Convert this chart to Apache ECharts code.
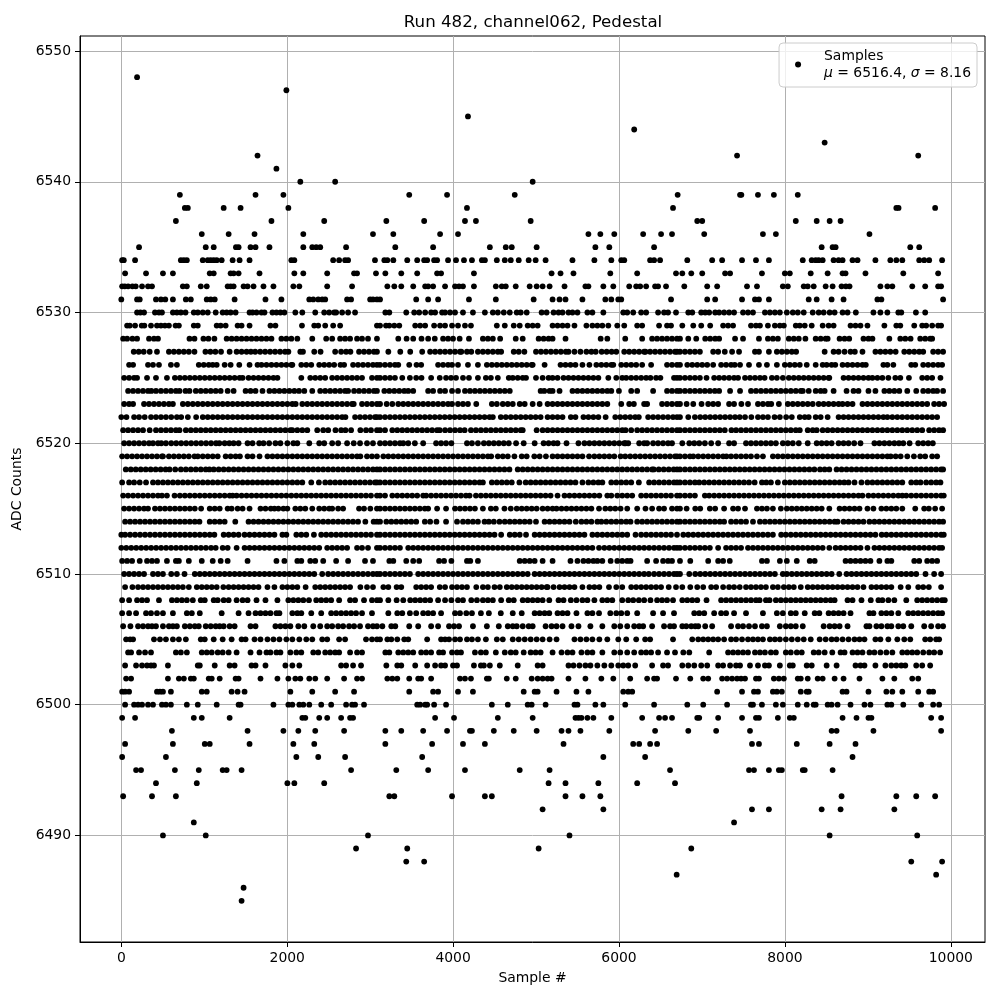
<!DOCTYPE html>
<html><head><meta charset="utf-8">
<script src="https://cdn.jsdelivr.net/npm/echarts@6/dist/echarts.min.js"></script>
<style>html,body{margin:0;padding:0;background:#fff}#c{width:1000px;height:1000px}</style></head>
<body><div id="c"></div>
<script>
const titleText='Run 482, channel062, Pedestal';
const xTicks=[0,2000,4000,6000,8000,10000];
const yTicks=[6490,6500,6510,6520,6530,6540,6550];
const s6548=[190];
const s6547=[1990];
const s6545=[4179];
const s6544=[6183];
const s6543=[8479];
const s6542=[1642,7423,9607];
const s6541=[1870];
const s6540=[2158,2578,4959];
const s6539=[706,1618,1954,3471,3927,4743,6707,7459,7475,7675,7867,8155];
const s6538=[766,802,1234,1438,2014,4167,6651,9343,9370,9811];
const s6537=[658,1810,2446,3195,3651,4143,4275,4935,6943,7003,8131,8383,8539,8671];
const s6536=[970,1294,1606,2194,3034,3279,3843,4059,5631,5775,5943,6291,6507,6639,7027,7735,7891,9019];
const s6535=[214,1018,1114,1382,1414,1558,1618,1786,2194,2302,2350,2398,2710,3303,3759,4443,4635,4707,5007,5715,5883,6423,8443,8575,8611,9511,9619];
const s6534=[10,30,166,718,754,790,982,1042,1078,1114,1150,1210,1342,1426,1546,2050,2086,2554,2626,2698,2734,3058,3171,3207,3279,3447,3567,3651,3687,3771,3807,3939,4035,4131,4227,4347,4383,4527,4623,4695,4791,4911,4995,5115,5439,5703,5907,6027,6063,6375,6423,6495,6823,7123,7243,7483,7651,7807,8215,8323,8371,8407,8455,8587,8647,8695,8815,8875,9091,9271,9343,9415,9619,9679,9739,9895];
const s6533=[46,298,502,622,1066,1114,1318,1354,1414,1666,2086,2194,2482,2806,2842,3070,3183,3375,3567,3807,3855,4251,5187,5295,5451,5895,6219,6687,6763,6871,7003,7279,7339,7723,7999,8059,8311,8515,8695,8731,8971,9427,9847];
const s6532=[10,42,82,134,174,250,322,370,742,790,958,1030,1282,1318,1354,1474,1522,1594,1714,1834,2074,2146,2482,2782,3207,3291,3375,3519,3663,3699,3759,3903,4023,4071,4119,4251,4515,4587,4635,4755,4923,5007,5079,5163,5343,5595,5631,5811,5931,6123,6207,6255,6327,6435,6471,6567,6787,7063,7183,7543,7663,7975,8035,8227,8275,8347,8491,8575,8683,8735,8779,9151,9235,9295,9535,9691,9847,9883];
const s6531=[0,190,222,418,478,530,622,778,838,1030,1078,1126,1366,1738,1930,2266,2314,2374,2422,2458,2722,2770,3000,3034,3082,3119,3555,3699,3819,4191,4515,4971,5199,5283,5355,5559,5835,5907,5991,6027,6627,7063,7159,7483,7639,7687,7807,8287,8383,8563,8707,9115,9163,9907];
const s6530=[190,230,274,406,454,490,622,670,718,774,874,922,982,1042,1138,1222,1270,1318,1378,1546,1582,1630,1690,1726,1822,1870,1918,1966,2098,2182,2338,2446,2506,2566,2590,2662,2734,2818,3183,3231,3435,3531,3591,3663,3735,3783,3867,3903,3963,4023,4119,4239,4383,4479,4539,4611,4683,4767,4815,4887,5067,5127,5211,5271,5319,5391,5439,5499,5619,5679,5811,6051,6099,6171,6267,6327,6471,6543,6591,6687,6835,6883,6991,7039,7087,7159,7207,7267,7327,7387,7495,7555,7615,7759,7819,7879,7939,8023,8095,8155,8227,8335,8407,8467,8539,8599,8695,8755,8855,9067,9151,9235,9367,9403,9579,9691];
const s6529=[70,102,166,246,278,358,430,478,526,574,654,694,874,922,1150,1198,1258,1402,1450,1546,1798,1858,2178,2326,2374,2458,2554,2638,3082,3119,3191,3231,3291,3351,3543,3603,3663,3771,3843,3903,3987,4059,4143,4215,4527,4623,4731,4803,4899,4959,5019,5199,5259,5319,5379,5463,5607,5679,5739,5799,5871,5979,6063,6219,6279,6483,6579,6627,6763,6895,6991,7099,7255,7315,7375,7591,7651,7699,7795,7879,7939,7987,8131,8179,8239,8323,8455,8527,8587,8791,8851,8911,8995,9199,9343,9391,9559,9655,9703,9775,9847,9883];
const s6528=[22,70,134,190,334,394,442,822,882,990,1050,1122,1270,1330,1390,1450,1510,1570,1630,1690,1750,1810,1930,1990,2050,2122,2302,2470,2542,2638,2698,2758,2842,2902,2974,3082,3339,3439,3519,3619,3699,3779,3879,3939,3999,4079,4191,4359,4419,4479,4567,4755,4839,5031,5091,5151,5199,5355,5779,5859,6075,6279,6399,6459,6519,6579,6639,6699,6735,6835,6931,7039,7099,7159,7207,7399,7495,7687,7795,7855,7915,8047,8107,8167,8247,8371,8431,8491,8515,8659,8719,8775,8947,9007,9055,9259,9391,9451,9515,9631,9691,9751,9775];
const s6527=[150,210,270,342,430,574,634,694,754,814,882,1014,1074,1134,1202,1306,1390,1450,1510,1562,1614,1674,1734,1794,1854,1914,1974,2014,2158,2190,2326,2402,2578,2650,2710,2762,2866,2926,2986,3046,3082,3219,3363,3483,3627,3723,3783,3843,3903,3963,4023,4083,4099,4167,4219,4299,4359,4419,4479,4539,4579,4731,4791,4859,4999,5059,5119,5179,5239,5299,5359,5391,5463,5535,5607,5667,5719,5791,5851,5911,5967,6063,6123,6183,6243,6303,6319,6375,6435,6495,6555,6615,6675,6699,6735,6795,6855,6915,6975,7135,7195,7275,7363,7447,7639,7687,7807,7903,7963,8023,8083,8135,8479,8587,8647,8719,8791,8843,8935,9091,9151,9211,9271,9335,9439,9499,9559,9619,9667,9787,9847,9907];
const s6526=[94,142,322,382,454,598,670,934,994,1054,1102,1150,1246,1318,1422,1546,1642,1690,1750,1810,1870,1930,1990,2050,2062,2170,2230,2290,2386,2446,2506,2566,2642,2686,2794,2854,2914,2974,3034,3082,3119,3179,3239,3299,3339,3471,3559,3615,3819,3879,3939,3987,4059,4179,4299,4407,4467,4527,4587,4647,4707,4767,4827,4887,4947,4959,5103,5295,5355,5415,5475,5559,5643,5727,5787,5847,5907,5931,6027,6087,6147,6207,6279,6387,6579,6639,6699,6735,6823,6883,6943,7003,7063,7135,7231,7291,7351,7395,7459,7567,7687,7783,7903,7999,8059,8119,8179,8263,8371,8455,8503,8563,8607,8695,8755,8815,8875,8935,8975,9187,9235,9307,9523,9571,9667,9727,9787,9847,9895];
const s6525=[34,94,154,190,310,418,550,646,706,766,826,886,946,1006,1066,1126,1186,1246,1306,1366,1426,1462,1534,1594,1654,1714,1774,1834,1882,2170,2278,2338,2398,2458,2542,2602,2662,2722,2782,2842,2902,3022,3082,3119,3179,3239,3299,3387,3479,3555,3619,3735,3839,3915,3975,4035,4119,4191,4299,4395,4455,4539,4671,4719,4779,4839,4879,4999,5079,5151,5199,5259,5331,5391,5451,5511,5571,5631,5691,5751,5871,5967,6039,6087,6147,6207,6267,6327,6379,6447,6499,6663,6699,6735,6795,6855,6915,6975,7055,7147,7207,7267,7327,7387,7435,7519,7579,7639,7699,7755,7843,7903,7975,8047,8107,8167,8227,8287,8347,8407,8467,8527,8535,8707,8767,8827,8887,8947,9007,9055,9115,9175,9247,9331,9391,9495,9655,9715,9775,9875];
const s6524=[82,142,202,262,322,362,418,478,538,598,658,702,774,822,898,958,1018,1078,1138,1198,1282,1354,1498,1558,1618,1702,1786,1846,1906,1966,2026,2086,2142,2206,2302,2398,2458,2518,2578,2638,2698,2734,2806,2866,2926,2986,3046,3082,3171,3231,3291,3351,3411,3459,3519,3699,3759,3843,3903,3987,4059,4143,4203,4263,4323,4383,4443,4503,4563,4623,4683,5055,5099,5163,5199,5283,5439,5499,5559,5619,5679,5739,5799,5859,5907,5999,6147,6219,6411,6579,6639,6699,6735,6795,6855,6915,6975,7035,7095,7155,7207,7339,7459,7591,7651,7711,7771,7831,7891,7951,8011,8071,8131,8191,8215,8287,8371,8431,8479,8587,8743,8827,8887,9007,9091,9199,9259,9319,9379,9475,9583,9667,9727,9787,9835,9907];
const s6523=[34,94,142,274,334,394,454,514,574,622,742,802,862,922,982,1042,1102,1162,1222,1282,1342,1402,1462,1522,1582,1642,1702,1762,1822,1882,1942,2002,2062,2102,2182,2242,2302,2362,2422,2482,2542,2602,2662,2722,2782,2802,2902,2962,3022,3082,3119,3199,3267,3339,3399,3459,3519,3579,3639,3699,3759,3819,3879,3939,3987,4059,4119,4179,4279,4467,4527,4599,4659,4719,4803,4863,4959,5043,5139,5199,5259,5319,5379,5439,5499,5559,5619,5679,5739,5799,5859,6027,6123,6179,6303,6339,6519,6579,6639,6699,6735,6815,6895,6995,7075,7135,7195,7327,7387,7475,7555,7675,7735,7795,7835,7927,8035,8095,8155,8215,8275,8335,8407,8467,8527,8587,8647,8695,8755,8815,8935,8995,9055,9115,9175,9235,9295,9355,9415,9475,9535,9595,9655,9715,9799,9859,9919];
const s6522=[0,62,154,214,282,358,418,478,538,602,670,722,802,902,982,1042,1102,1162,1222,1282,1342,1402,1462,1522,1582,1642,1702,1762,1822,1882,1942,2002,2062,2122,2182,2242,2302,2362,2422,2482,2542,2602,2662,2702,2818,2878,2938,2998,3058,3082,3119,3179,3239,3299,3359,3419,3479,3539,3599,3659,3719,3779,3839,3899,3959,4019,4079,4139,4199,4259,4319,4379,4439,4479,4575,4635,4695,4755,4815,4875,4935,4995,5055,5139,5199,5259,5319,5419,5475,5571,5631,5691,5751,5839,5955,6015,6075,6135,6195,6239,6351,6411,6471,6531,6591,6651,6699,6735,6835,6915,6979,7039,7099,7159,7219,7279,7339,7399,7455,7519,7595,7675,7735,7795,7875,7939,8015,8083,8179,8239,8287,8371,8431,8515,8647,8707,8767,8827,8887,8947,9007,9067,9127,9187,9235,9295,9355,9415,9475,9535,9595,9655,9715,9775,9835];
const s6521=[22,82,142,202,262,342,418,478,538,598,658,702,778,838,898,958,1018,1078,1138,1198,1258,1318,1378,1438,1498,1558,1618,1678,1738,1798,1858,1918,1978,2038,2062,2122,2182,2242,2362,2434,2494,2582,2650,2702,2770,2882,2950,3010,3082,3119,3179,3267,3327,3387,3447,3507,3567,3627,3687,3747,3807,3839,3903,3963,4023,4083,4139,4215,4275,4335,4395,4455,4515,4575,4635,4695,4755,4815,4839,5007,5079,5139,5199,5259,5319,5379,5439,5499,5559,5619,5679,5739,5799,5859,5919,5979,6039,6079,6147,6219,6279,6339,6399,6459,6519,6579,6639,6699,6735,6795,6855,6915,6975,7035,7095,7155,7215,7275,7355,7411,7471,7531,7591,7651,7711,7771,7831,7891,7951,8011,8071,8131,8179,8275,8335,8383,8455,8515,8575,8635,8695,8755,8815,8875,8935,8995,9055,9115,9175,9235,9295,9355,9415,9475,9535,9595,9655,9739,9799,9859,9907];
const s6520=[34,94,154,214,274,334,382,442,482,538,602,662,722,782,842,902,962,1022,1082,1142,1182,1246,1302,1354,1414,1522,1582,1662,1714,1782,1858,1918,2002,2074,2122,2266,2386,2446,2542,2614,2722,2802,2878,2962,3034,3119,3179,3239,3299,3359,3399,3459,3539,3639,3795,3855,3915,3979,4167,4227,4299,4371,4431,4491,4551,4611,4671,4759,4851,4983,5091,5151,5211,5259,5367,5511,5583,5643,5703,5763,5823,5883,5943,6003,6063,6079,6111,6243,6303,6339,6411,6471,6531,6591,6639,6763,6847,6907,6967,7035,7111,7195,7327,7387,7531,7591,7651,7711,7771,7831,7891,7975,8035,8095,8167,8275,8383,8443,8503,8563,8647,8707,8767,8835,8911,9079,9139,9199,9259,9319,9375,9427,9503,9607,9667,9727,9783];
const s6519=[10,70,130,190,250,310,370,430,490,502,574,634,694,754,814,882,922,982,1042,1102,1162,1258,1318,1378,1430,1522,1582,1666,1762,1822,1882,1942,2002,2062,2122,2182,2242,2302,2362,2422,2482,2542,2602,2662,2722,2782,2842,2882,2962,3022,3082,3159,3219,3279,3339,3399,3459,3519,3579,3639,3699,3759,3819,3879,3939,3999,4059,4119,4179,4239,4299,4359,4419,4459,4539,4599,4659,4739,4827,4887,4979,5043,5119,5199,5259,5319,5379,5439,5499,5559,5639,5703,5763,5823,5883,5943,6019,6075,6135,6195,6255,6315,6375,6435,6495,6555,6615,6675,6699,6735,6795,6855,6895,6955,7015,7075,7135,7195,7255,7295,7351,7411,7471,7531,7591,7663,7735,7855,7915,7975,8035,8095,8155,8215,8275,8335,8395,8455,8515,8575,8635,8695,8755,8815,8875,8935,8995,9055,9115,9175,9235,9275,9335,9395,9475,9555,9631,9691,9775,9835];
const s6518=[54,114,174,234,294,354,414,474,534,582,650,718,778,838,898,958,1018,1062,1114,1174,1234,1294,1354,1414,1474,1534,1594,1654,1714,1774,1834,1894,1954,2014,2074,2134,2194,2254,2314,2374,2434,2494,2554,2614,2674,2734,2794,2854,2914,2974,3034,3082,3119,3179,3239,3299,3359,3419,3479,3539,3599,3659,3719,3779,3839,3899,3959,4019,4079,4139,4199,4259,4319,4379,4439,4499,4559,4619,4679,4779,4839,4899,4959,5019,5079,5139,5199,5259,5319,5379,5439,5499,5559,5619,5679,5739,5799,5859,5919,5979,6039,6099,6159,6219,6279,6339,6399,6419,6479,6539,6599,6659,6699,6735,6795,6855,6915,6975,7035,7095,7155,7215,7275,7335,7395,7455,7515,7575,7635,7695,7755,7815,7875,7935,7995,8055,8115,8175,8235,8295,8355,8423,8479,8535,8623,8683,8743,8803,8863,8923,8983,9043,9103,9163,9223,9283,9343,9403,9463,9523,9583,9643,9703,9763,9823,9883,9907];
const s6517=[10,94,154,222,298,382,442,502,562,622,682,742,802,862,922,982,1042,1102,1162,1222,1282,1342,1402,1462,1522,1582,1642,1702,1762,1822,1882,1942,2002,2062,2122,2182,2290,2382,2458,2518,2578,2638,2698,2758,2818,2878,2938,2998,3058,3082,3119,3179,3239,3299,3359,3419,3479,3539,3599,3659,3719,3779,3839,3899,3959,4019,4079,4139,4199,4259,4319,4359,4467,4527,4587,4647,4707,4799,4875,4935,4995,5055,5115,5175,5235,5295,5355,5415,5475,5559,5631,5691,5751,5799,5907,5967,6027,6087,6147,6239,6363,6423,6483,6543,6603,6663,6699,6735,6795,6855,6915,6967,7027,7087,7147,7207,7267,7327,7387,7447,7507,7567,7635,7723,7775,7831,7915,7999,8059,8119,8179,8239,8299,8359,8419,8479,8539,8599,8659,8715,8767,8839,8923,8995,9055,9115,9175,9235,9295,9355,9415,9523,9583,9635,9703,9763,9823,9875];
const s6516=[22,82,142,202,262,322,382,442,490,550,642,706,766,826,886,946,1006,1066,1126,1186,1246,1306,1342,1390,1450,1510,1570,1630,1690,1750,1810,1870,1930,1990,2050,2110,2170,2230,2290,2350,2410,2470,2530,2590,2650,2710,2770,2830,2890,2950,3010,3082,3119,3179,3267,3327,3387,3447,3507,3567,3639,3675,3735,3795,3855,3915,3975,4035,4095,4155,4199,4275,4335,4395,4455,4515,4575,4635,4695,4755,4815,4875,4935,4995,5055,5115,5175,5259,5343,5403,5463,5523,5583,5643,5703,5763,5859,5907,5979,6039,6099,6159,6267,6327,6387,6447,6507,6567,6627,6699,6735,6795,6855,6915,7035,7087,7147,7207,7267,7327,7387,7447,7507,7567,7627,7687,7747,7807,7867,7927,7987,8047,8107,8167,8227,8287,8347,8407,8467,8527,8587,8647,8707,8767,8827,8887,8935,9007,9067,9127,9187,9247,9307,9367,9415,9463,9523,9583,9643,9703,9763,9823,9883,9915];
const s6515=[34,94,154,214,274,322,406,466,526,586,646,706,766,826,886,962,1066,1126,1186,1282,1330,1402,1462,1546,1678,1738,1802,1846,1894,1954,2002,2098,2158,2218,2302,2386,2446,2506,2542,2614,2674,2866,2926,3002,3082,3119,3179,3239,3299,3359,3419,3479,3539,3599,3659,3699,3807,3915,4023,4083,4143,4203,4263,4359,4455,4515,4619,4695,4767,4827,4887,4947,5007,5079,5139,5199,5247,5307,5367,5427,5487,5547,5607,5667,5759,5835,5895,5955,6019,6099,6219,6319,6399,6483,6543,6639,6699,6735,6815,6919,6979,7095,7159,7267,7375,7435,7519,7663,7723,7783,7855,7951,8023,8083,8143,8203,8263,8323,8383,8443,8535,8659,8719,8779,8839,8899,8995,9067,9163,9223,9283,9343,9415,9571,9679,9735,9811,9895];
const s6514=[46,106,166,226,286,346,406,466,526,586,646,706,766,826,886,942,1066,1126,1186,1246,1374,1534,1594,1654,1714,1774,1834,1894,1954,2014,2074,2134,2194,2254,2314,2374,2434,2494,2554,2614,2674,2734,2794,2854,2942,3042,3082,3119,3195,3255,3315,3375,3435,3495,3555,3659,3723,3799,3915,4047,4119,4179,4239,4299,4379,4431,4491,4559,4623,4683,4743,4803,4863,4923,4999,5103,5163,5223,5283,5343,5403,5479,5547,5607,5667,5739,5787,5847,5907,5967,6027,6087,6139,6219,6279,6339,6399,6459,6519,6579,6639,6699,6735,6795,6855,6915,6975,7035,7095,7155,7215,7267,7351,7411,7471,7531,7615,7699,7759,7819,7879,7939,7999,8059,8119,8179,8239,8299,8359,8419,8479,8539,8599,8635,8707,8767,8827,8887,8947,9019,9079,9139,9199,9259,9319,9379,9439,9499,9559,9619,9679,9739,9799,9859,9907];
const s6513=[0,46,106,166,226,286,346,406,466,526,586,646,706,766,826,886,946,1006,1066,1122,1234,1294,1354,1414,1486,1546,1606,1666,1726,1786,1846,1942,1990,2110,2170,2230,2322,2410,2470,2530,2590,2650,2710,2770,2830,2890,2950,3010,3082,3119,3179,3239,3299,3359,3419,3479,3539,3599,3659,3719,3779,3839,3899,3959,4019,4079,4139,4199,4259,4319,4379,4439,4499,4579,4683,4743,4803,4879,4983,5043,5103,5163,5223,5283,5343,5403,5463,5523,5583,5679,5739,5799,5859,5919,5979,6039,6099,6199,6267,6327,6387,6447,6507,6567,6627,6699,6775,6835,6895,6955,7015,7075,7135,7195,7255,7315,7375,7435,7495,7555,7615,7675,7735,7795,7855,7955,8011,8071,8131,8191,8251,8311,8371,8431,8491,8551,8611,8671,8731,8791,8851,8911,8971,9031,9091,9167,9223,9283,9343,9403,9463,9523,9583,9643,9703,9763,9823,9883,9915];
const s6512=[0,60,120,180,240,300,360,420,480,540,600,660,720,780,840,900,960,1020,1082,1138,1222,1282,1390,1486,1546,1606,1666,1726,1786,1846,1906,1966,2026,2086,2146,2206,2266,2326,2386,2482,2542,2602,2662,2722,2842,2902,2974,3082,3119,3179,3239,3299,3359,3459,3519,3579,3639,3699,3759,3819,3879,3939,3999,4059,4119,4179,4239,4299,4359,4419,4479,4539,4599,4659,4719,4779,4839,4899,4959,5019,5079,5139,5199,5259,5319,5379,5439,5499,5559,5619,5679,5759,5823,5883,5943,6003,6063,6123,6183,6243,6303,6363,6423,6483,6543,6603,6663,6699,6735,6795,6855,6915,6975,7035,7095,7195,7291,7351,7411,7471,7555,7615,7675,7735,7795,7855,7915,7975,8035,8095,8155,8215,8275,8335,8395,8455,8535,8611,8671,8731,8791,8851,8911,8995,9079,9139,9199,9259,9319,9379,9439,9499,9559,9619,9679,9739,9799,9859,9895];
const s6511=[10,70,130,222,310,370,430,550,658,694,814,970,1102,1198,1282,1522,1870,1966,2122,2170,2278,2338,2434,2590,2734,2938,3034,3231,3279,3435,3519,3591,3831,3891,3979,4167,4207,4299,4803,4863,4923,4983,5079,5199,5415,5499,5571,5631,5691,5739,5799,5899,5979,6039,6099,6139,6339,6447,6531,6591,6639,6735,6859,7075,7195,7255,7335,7723,7783,7939,8023,8143,8299,8359,8731,8791,8851,8911,8971,9031,9139,9235,9283,9559,9619,9715,9775,9835];
const s6510=[34,94,154,214,274,382,442,502,602,670,762,886,946,1006,1066,1126,1186,1246,1306,1366,1426,1486,1546,1606,1666,1726,1786,1846,1906,1966,2026,2086,2146,2206,2266,2326,2422,2494,2554,2614,2674,2734,2794,2854,2914,2974,3034,3082,3119,3179,3239,3299,3359,3419,3479,3579,3639,3699,3759,3819,3879,3939,3999,4059,4119,4179,4239,4299,4359,4419,4479,4539,4599,4659,4719,4779,4839,4899,4983,5043,5103,5163,5223,5283,5343,5403,5463,5523,5583,5643,5703,5763,5823,5883,5943,6003,6063,6123,6183,6243,6303,6359,6423,6483,6543,6603,6663,6699,6735,6847,6919,6979,7039,7099,7159,7219,7279,7339,7399,7459,7519,7579,7639,7699,7759,7819,7879,7975,8023,8083,8143,8203,8263,8323,8383,8443,8503,8563,8655,8743,8803,8863,8923,8983,9043,9103,9163,9223,9283,9343,9403,9463,9523,9583,9695,9799,9883];
const s6509=[46,134,202,262,322,382,442,502,562,622,682,742,814,910,970,1030,1090,1150,1230,1294,1354,1414,1474,1534,1594,1654,1762,1846,1942,2002,2062,2122,2222,2338,2398,2458,2518,2578,2638,2698,2758,2882,2962,3034,3159,3219,3319,3375,3555,3615,3675,3735,3839,3903,3987,4047,4107,4167,4279,4359,4419,4499,4563,4647,4707,4767,4827,4887,4947,5007,5067,5127,5139,5211,5283,5343,5403,5463,5559,5643,5703,5763,5879,5967,6039,6147,6207,6267,6327,6387,6447,6507,6599,6687,6763,6859,6943,7015,7111,7171,7255,7327,7387,7455,7531,7591,7651,7711,7771,7855,7915,7987,8047,8107,8191,8275,8335,8395,8455,8515,8575,8635,8695,8755,8815,8875,8947,9043,9103,9163,9223,9283,9395,9487,9607,9667,9735,9883];
const s6508=[10,94,190,250,310,454,610,670,730,790,862,958,1006,1114,1162,1234,1294,1390,1462,1522,1630,1738,1882,2014,2074,2134,2194,2262,2350,2410,2470,2530,2626,2758,2818,2926,3022,3082,3119,3219,3319,3399,3483,3543,3603,3663,3723,3819,3903,3979,4059,4119,4219,4287,4359,4419,4479,4579,4671,4731,4839,4899,4959,5019,5079,5159,5271,5331,5419,5487,5559,5619,5703,5799,5859,5919,6039,6111,6171,6239,6303,6379,6459,6519,6579,6651,6763,6823,6883,6943,7055,7231,7291,7351,7411,7471,7531,7591,7651,7695,7771,7815,7891,7951,8011,8071,8131,8191,8251,8311,8371,8431,8491,8551,8599,8755,8815,8923,9035,9127,9175,9247,9319,9463,9595,9655,9715,9775,9835,9895,9927];
const s6507=[10,94,178,298,358,430,502,622,790,850,946,1210,1414,1534,1618,1678,1738,1798,1870,1906,2062,2122,2170,2290,2410,2530,2590,2650,2710,2770,2830,2902,3022,3219,3327,3387,3479,3555,3639,3699,3759,3855,4023,4083,4159,4227,4335,4431,4575,4719,4827,4983,5043,5103,5159,5259,5319,5379,5487,5619,5679,5759,5895,5967,6027,6099,6219,6411,6531,6663,6907,6967,7027,7147,7231,7291,7387,7531,7735,7903,7975,8071,8131,8239,8359,8415,8527,8587,8647,8707,8791,9019,9067,9163,9223,9283,9367,9487,9547,9607,9667,9727,9787,9847,9895];
const s6506=[22,110,202,262,322,370,418,502,574,622,670,766,826,886,934,1018,1078,1138,1186,1234,1306,1366,1558,1618,1858,1918,1978,2038,2134,2206,2314,2398,2482,2542,2614,2674,2746,2806,2878,2974,3034,3082,3147,3255,3303,3471,3579,3735,3819,3951,4011,4071,4239,4407,4551,4659,4719,4767,4839,4911,4959,5115,5187,5247,5319,5427,5511,5655,5799,5943,6015,6099,6183,6243,6291,6399,6543,6615,6663,6763,6811,6871,6919,6955,7039,7123,7351,7435,7495,7567,7639,7723,7783,7939,8011,8071,8131,8215,8467,8539,8599,8659,8755,8983,9019,9103,9163,9235,9283,9367,9427,9523,9679,9763,9847,9907];
const s6505=[58,106,142,394,466,538,622,694,778,958,1006,1114,1222,1330,1450,1498,1606,1678,1762,1834,1906,1990,2062,2146,2230,2302,2422,2482,2626,2698,2950,3022,3082,3119,3207,3255,3327,3411,3459,3687,3855,3903,3951,4023,4083,4167,4227,4299,4395,4527,4599,4719,4791,4863,4935,5007,5079,5163,5247,5463,5535,5607,5679,5763,5859,5991,6087,6207,6315,6375,6651,6883,6955,7015,7075,7135,7195,7267,7351,7411,7483,7555,7615,7675,7735,7819,7879,7939,8011,8083,8155,8227,8311,8419,8491,8563,8623,8695,8767,8839,8899,8959,9091,9151,9247,9355,9439,9511,9691,9751,9823,9859];
const s6504=[82,118,214,286,358,658,718,790,970,1030,1090,1162,1222,1294,1390,1558,1666,1750,1798,1870,1918,2038,2110,2170,2314,2374,2458,2518,2578,2626,2758,2842,2902,3183,3231,3339,3399,3459,3519,3615,3675,3735,3831,3879,3987,4047,4095,4263,4335,4395,4515,4623,4695,4755,4851,4935,4995,5055,5199,5307,5379,5439,5547,5619,5679,5799,5943,6015,6099,6183,6267,6327,6387,6471,6579,6675,6775,6847,7087,7315,7375,7435,7495,7555,7639,7699,7759,7831,7891,8011,8071,8143,8203,8347,8407,8479,8571,8671,8719,8815,8875,8935,9019,9079,9151,9223,9295,9415,9475,9535,9595,9667,9739,9799,9871];
const s6503=[46,178,250,310,358,394,562,922,946,1126,1306,1366,1570,1618,1738,1978,2062,2146,2650,2710,2794,2890,3195,3327,3375,3543,3687,3783,3855,3903,3999,4047,4251,4335,4371,4443,4563,4779,5019,5079,5391,5451,5523,5595,5655,5739,5823,5907,5991,6051,6111,6195,6399,6531,6591,6763,6835,6907,6991,7063,7195,7255,7339,7411,7459,7579,7675,7759,7807,7939,8059,8095,8263,8323,8503,8623,8851,8911,8959,9091,9211,9283,9343,9403,9451,9583,9655,9751];
const s6502=[58,118,562,694,754,838,874,1054,1090,1186,1378,1414,1678,1882,2014,2098,2158,2266,2338,2482,2686,2842,2902,3207,3267,3327,3471,3579,3615,3735,4083,4143,4215,4407,4431,4647,4755,4947,5019,5079,5139,5187,5391,5595,5787,5931,6135,6339,6423,6459,6687,6859,7015,7075,7243,7303,7363,7423,7471,7519,7651,7687,7867,7927,7987,8155,8191,8275,8395,8455,8599,8707,8899,9175,9319,9535,9607];
const s6501=[10,46,94,430,466,502,598,970,1030,1330,1402,1486,2038,2302,2578,2806,3471,3759,3819,4059,4239,4851,4983,5019,5247,5487,5631,6051,6111,6159,7183,7483,7627,7675,7855,7903,7963,8191,8263,8287,8695,8743,9007,9223,9295,9415,9607,9739,9787];
const s6500=[46,154,202,250,322,382,490,538,598,790,922,1150,1414,1438,1834,2014,2062,2146,2194,2266,2410,2530,2710,2782,2818,2926,3567,3603,3663,3687,3771,3915,4467,4659,4899,4947,5115,5463,5499,5715,5811,6075,6423,6823,7015,7303,7591,7615,7723,7891,7975,8155,8263,8347,8371,8515,8563,8635,8791,8959,9031,9235,9283,9427,9643,9787,9859];
const s6499=[10,166,874,970,1306,2182,2218,2386,2482,2650,2758,2794,3783,4011,4539,4959,5475,5511,5547,5619,5691,5907,6279,6483,6555,6639,6943,6967,7195,7483,7651,7687,7915,8059,8107,8695,8863,9007,9043,9763,9883];
const s6498=[610,1522,1954,2134,2338,2686,3183,3375,3639,3927,4203,4227,4491,4731,5007,5307,5391,5535,5883,6435,6835,7171,7579,8563,8623,9067,9883];
const s6497=[46,622,1006,1066,1546,2074,2326,3183,3747,4119,4383,5331,6171,6243,6375,6459,7603,7687,8143,8539,8851];
const s6496=[10,538,2110,2374,2698,3627,5811,6315,8815];
const s6495=[178,238,646,934,1222,1270,1450,2770,3315,3699,4143,4803,5163,6615,7567,7627,7807,7927,7963,8215,8239,8575];
const s6494=[418,910,2002,2086,2446,5151,5355,5751,6219,6675];
const s6493=[22,370,658,3231,3291,3987,4383,4467,5355,5559,5775,8683,9343,9583,9811];
const s6492=[5079,5811,7603,7807,8443,8671,9319];
const s6491=[874,7387];
const s6490=[502,1018,2974,5403,8539,9595];
const s6489=[2830,3447,5031,6871];
const s6488=[3435,3651,9523,9895];
const s6487=[6695,9823];
const s6486=[1474];
const s6485=[1450];
const levels=[[6548,s6548],[6547,s6547],[6545,s6545],[6544,s6544],[6543,s6543],[6542,s6542],[6541,s6541],[6540,s6540],[6539,s6539],[6538,s6538],[6537,s6537],[6536,s6536],[6535,s6535],[6534,s6534],[6533,s6533],[6532,s6532],[6531,s6531],[6530,s6530],[6529,s6529],[6528,s6528],[6527,s6527],[6526,s6526],[6525,s6525],[6524,s6524],[6523,s6523],[6522,s6522],[6521,s6521],[6520,s6520],[6519,s6519],[6518,s6518],[6517,s6517],[6516,s6516],[6515,s6515],[6514,s6514],[6513,s6513],[6512,s6512],[6511,s6511],[6510,s6510],[6509,s6509],[6508,s6508],[6507,s6507],[6506,s6506],[6505,s6505],[6504,s6504],[6503,s6503],[6502,s6502],[6501,s6501],[6500,s6500],[6499,s6499],[6498,s6498],[6497,s6497],[6496,s6496],[6495,s6495],[6494,s6494],[6493,s6493],[6492,s6492],[6491,s6491],[6490,s6490],[6489,s6489],[6488,s6488],[6487,s6487],[6486,s6486],[6485,s6485]];
const points=[];
levels.forEach(([y,xs])=>xs.forEach(x=>points.push([x,y])));
const font='"DejaVu Sans"';
const chart=echarts.init(document.getElementById('c'),null,{renderer:'canvas'});
const axisCommon={
  axisLine:{onZero:false,lineStyle:{color:'#000',width:1}},
  axisTick:{show:true,length:5,lineStyle:{color:'#000',width:1}},
  splitLine:{show:true,lineStyle:{color:'#b0b0b0',width:1}},
  nameLocation:'middle',
  nameTextStyle:{color:'#000',fontFamily:font,fontSize:13.9}
};
chart.setOption({
  animation:false,
  backgroundColor:'#fff',
  title:{text:titleText,left:528,top:9,textAlign:'center',textStyle:{color:'#000',fontFamily:font,fontSize:16.67,fontWeight:'normal'}},
  grid:{left:80,right:15,top:36,bottom:58,show:true,borderColor:'#000',borderWidth:1,backgroundColor:'transparent'},
  legend:{
    right:23,top:43,orient:'vertical',
    icon:'circle',itemWidth:36,itemHeight:6,padding:[6,6,7,16],
    backgroundColor:'rgba(255,255,255,0.8)',borderColor:'#cccccc',borderWidth:1,borderRadius:4,
    selectedMode:false,
    formatter:'{c|Samples}\n{d|\u03bc}{a| = 6516.4, }{b|\u03c3}{a| = 8.16}',
    textStyle:{rich:{
      a:{fontFamily:font,fontSize:13.9,color:'#000',lineHeight:17},
      b:{fontFamily:font,fontSize:13.9,fontStyle:'italic',color:'#000',lineHeight:17},
      c:{fontFamily:font,fontSize:13.9,color:'#000',lineHeight:17,padding:[0,0,0,3]},
      d:{fontFamily:font,fontSize:13.9,fontStyle:'italic',color:'#000',lineHeight:17,padding:[0,0,0,3]}
    }},
    data:['Samples']
  },
  xAxis:Object.assign({},axisCommon,{
    type:'value',min:-498,max:10412,name:'Sample #',nameGap:29,
    axisTick:Object.assign({},axisCommon.axisTick,{customValues:xTicks}),
    axisLabel:{customValues:xTicks,formatter:v=>String(v),color:'#000',fontFamily:font,fontSize:13.9,margin:9}
  }),
  yAxis:Object.assign({},axisCommon,{
    type:'value',min:6481.85,max:6551.15,name:'ADC Counts',nameGap:50,
    axisTick:Object.assign({},axisCommon.axisTick,{customValues:yTicks}),
    axisLabel:{customValues:yTicks,formatter:v=>String(v),color:'#000',fontFamily:font,fontSize:13.9,margin:9}
  }),
  series:[{name:'Samples',type:'scatter',data:points,symbol:'circle',symbolSize:5.8,
    itemStyle:{color:'#000',opacity:1},silent:true,clip:false}]
});
</script></body></html>
